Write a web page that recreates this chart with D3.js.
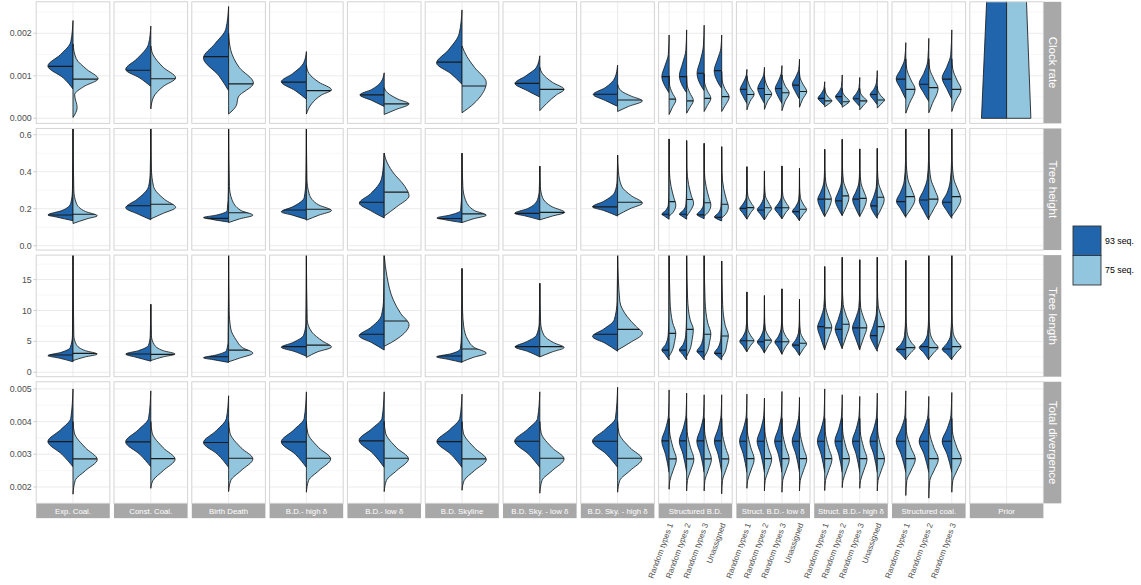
<!DOCTYPE html>
<html><head><meta charset="utf-8">
<script src="https://cdn.jsdelivr.net/npm/d3@7"></script>
<style>body{margin:0;background:#fff}</style>
</head><body><svg id="chart" width="1141" height="585"></svg>
<script>
// ---------------- DATA ----------------
const facets = ["Exp. Coal.","Const. Coal.","Birth Death","B.D.- high δ","B.D.- low δ","B.D. Skyline","B.D. Sky. - low δ","B.D. Sky. - high δ","Structured B.D.","Struct. B.D.- low δ","Struct. B.D.- high δ","Structured coal.","Prior"];
const structuredTypes4 = ["Random types 1","Random types 2","Random types 3","Unassigned"];
const structuredTypes3 = ["Random types 1","Random types 2","Random types 3"];
const facetCategories = [[""],[""],[""],[""],[""],[""],[""],[""],structuredTypes4,structuredTypes4,structuredTypes4,structuredTypes3,[""]];
const metrics = ["Clock rate","Tree height","Tree length","Total divergence"];
const groups = ["93 seq.","75 seq."];
const groupColors = ["#2166AC","#92C5DE"];
const yDomains = [[-0.00012,0.002741],[-0.0235,0.6338],[-0.71,18.96],[0.0015,0.005219]];
const yTicks = [[0,0.001,0.002],[0,0.2,0.4,0.6],[0,5,10,15],[0.002,0.003,0.004,0.005]];
const yTickLabels = [["0.000","0.001","0.002"],["0.0","0.2","0.4","0.6"],["0","5","10","15"],["0.002","0.003","0.004","0.005"]];

// half-violin profiles: [value, relative half-width]
const clockRate93 = [
 [[0.00069,0],[0.00095,0.35],[0.00123,0.91],[0.0015,0.45],[0.0018,0.08],[0.0023,0]],
 [[0.00075,0],[0.00095,0.4],[0.00115,0.91],[0.0014,0.5],[0.00175,0.08],[0.00217,0]],
 [[0.00065,0],[0.001,0.35],[0.00142,0.91],[0.00175,0.5],[0.0021,0.1],[0.00263,0]],
 [[0.00045,0],[0.00065,0.4],[0.00086,0.91],[0.00105,0.5],[0.0013,0.1],[0.00157,0]],
 [[0.00028,0],[0.00042,0.45],[0.00055,0.88],[0.00068,0.45],[0.00085,0.12],[0.00107,0]],
 [[0.0008,0],[0.00105,0.4],[0.0013,0.92],[0.0016,0.5],[0.002,0.1],[0.00255,0]],
 [[0.0005,0],[0.00065,0.45],[0.00082,0.9],[0.001,0.5],[0.0012,0.12],[0.00147,0]],
 [[0.00028,0],[0.00042,0.45],[0.00056,0.88],[0.00072,0.45],[0.00095,0.1],[0.00125,0]],
 [[0.0006,0],[0.00075,0.5],[0.00098,0.92],[0.00125,0.5],[0.0015,0.1],[0.00196,0]],
 [[0.0006,0],[0.00075,0.5],[0.001,0.92],[0.0013,0.5],[0.0016,0.1],[0.00208,0]],
 [[0.00065,0],[0.0008,0.5],[0.00106,0.9],[0.00135,0.5],[0.0017,0.1],[0.00219,0]],
 [[0.0007,0],[0.00085,0.5],[0.00112,0.95],[0.0014,0.5],[0.00165,0.1],[0.00196,0]],
 [[0.00035,0],[0.0005,0.45],[0.00068,0.85],[0.00085,0.45],[0.001,0.1],[0.00115,0]],
 [[0.00035,0],[0.0005,0.45],[0.0007,0.85],[0.00088,0.45],[0.00102,0.1],[0.0012,0]],
 [[0.00035,0],[0.0005,0.45],[0.0007,0.85],[0.00088,0.45],[0.00105,0.1],[0.00124,0]],
 [[0.00045,0],[0.0006,0.45],[0.0008,0.9],[0.00098,0.45],[0.00115,0.1],[0.00139,0]],
 [[0.0003,0],[0.00038,0.45],[0.00047,0.85],[0.00058,0.45],[0.0007,0.1],[0.00086,0]],
 [[0.0003,0],[0.0004,0.45],[0.00051,0.85],[0.00062,0.45],[0.00075,0.1],[0.00102,0]],
 [[0.00028,0],[0.00037,0.45],[0.00047,0.85],[0.00058,0.45],[0.00072,0.1],[0.00096,0]],
 [[0.00032,0],[0.00043,0.45],[0.00056,0.9],[0.00068,0.45],[0.00085,0.1],[0.00112,0]],
 [[0.00045,0],[0.0007,0.5],[0.00093,0.93],[0.00115,0.5],[0.0014,0.1],[0.00178,0]],
 [[0.0004,0],[0.0006,0.5],[0.00082,0.93],[0.00105,0.5],[0.00135,0.1],[0.00188,0]],
 [[0.00045,0],[0.0007,0.5],[0.00095,0.93],[0.0012,0.5],[0.0015,0.1],[0.00208,0]]
];
const clockRate75 = [
 [[0.00002,0],[0.00025,0.15],[0.00055,0.06],[0.00075,0.4],[0.00093,0.91],[0.00115,0.5],[0.0014,0.12],[0.00175,0]],
 [[0.00022,0],[0.0005,0.1],[0.00075,0.45],[0.00095,0.9],[0.0012,0.45],[0.0015,0.08],[0.0017,0]],
 [[0.0001,0],[0.0003,0.28],[0.0005,0.35],[0.00083,0.9],[0.0012,0.38],[0.0016,0.08],[0.002,0]],
 [[0.0001,0],[0.00035,0.2],[0.00055,0.55],[0.00067,0.91],[0.00085,0.45],[0.00105,0.1],[0.00125,0]],
 [[0.00009,0],[0.0002,0.4],[0.00034,0.9],[0.00045,0.5],[0.0006,0.12],[0.00072,0]],
 [[0.00013,0],[0.0003,0.35],[0.0005,0.65],[0.00084,0.88],[0.0012,0.45],[0.00145,0.18],[0.0017,0]],
 [[0.00018,0],[0.00035,0.25],[0.00055,0.6],[0.00068,0.88],[0.00085,0.45],[0.00105,0.1],[0.0012,0]],
 [[0.00016,0],[0.00028,0.4],[0.00041,0.9],[0.00052,0.5],[0.00065,0.12],[0.0008,0]],
 [[0.00009,0],[0.00025,0.4],[0.00043,0.85],[0.0006,0.4],[0.0008,0.05],[0.001,0]],
 [[0.00012,0],[0.00025,0.4],[0.00042,0.85],[0.0006,0.4],[0.0008,0.05],[0.001,0]],
 [[0.00016,0],[0.0003,0.4],[0.00047,0.85],[0.00065,0.4],[0.00085,0.05],[0.00105,0]],
 [[0.00016,0],[0.0003,0.45],[0.0005,0.95],[0.0007,0.4],[0.0009,0.05],[0.0011,0]],
 [[0.0002,0],[0.0004,0.4],[0.00057,0.92],[0.00072,0.45],[0.0009,0.08],[0.001,0]],
 [[0.00021,0],[0.0004,0.4],[0.00057,0.92],[0.00072,0.45],[0.0009,0.08],[0.001,0]],
 [[0.00018,0],[0.0004,0.4],[0.0006,0.92],[0.00075,0.45],[0.00092,0.08],[0.00102,0]],
 [[0.00026,0],[0.00045,0.4],[0.00063,0.92],[0.0008,0.45],[0.00095,0.08],[0.00108,0]],
 [[0.00027,0],[0.00033,0.45],[0.00041,0.92],[0.0005,0.45],[0.00062,0.08],[0.00072,0]],
 [[0.00026,0],[0.00032,0.45],[0.0004,0.92],[0.0005,0.45],[0.0006,0.08],[0.0007,0]],
 [[0.0002,0],[0.0003,0.45],[0.00041,0.92],[0.0005,0.45],[0.0006,0.08],[0.0007,0]],
 [[0.00024,0],[0.00033,0.45],[0.00043,0.92],[0.00053,0.45],[0.00065,0.08],[0.00075,0]],
 [[0.00012,0],[0.00035,0.35],[0.00068,0.9],[0.0009,0.5],[0.00115,0.1],[0.0014,0]],
 [[0.00013,0],[0.00035,0.35],[0.0007,0.9],[0.00092,0.5],[0.00115,0.1],[0.0014,0]],
 [[0.00016,0],[0.0004,0.35],[0.00068,0.9],[0.0009,0.5],[0.00115,0.1],[0.0014,0]]
];
const clockRateMedian93 = [0.00122,0.00113,0.00145,0.00085,0.00055,0.00132,0.00082,0.000565,0.00098,0.00098,0.00106,0.00112,0.00068,0.0007,0.0007,0.00078,0.00047,0.00051,0.00046,0.00056,0.00092,0.0008,0.00092];
const clockRateMedian75 = [0.00092,0.00093,0.00081,0.00065,0.00034,0.00076,0.00068,0.00043,0.00045,0.00041,0.00047,0.00051,0.00056,0.00056,0.0006,0.00063,0.00041,0.00039,0.00041,0.00043,0.00068,0.00072,0.00068];
const priorClockRate93 = [[0,0.91],[0.0031,0.7]];
const priorClockRate75 = [[0,0.88],[0.0031,0.7]];

const treeHeight93 = [
 [[0.135,0],[0.155,0.6],[0.166,0.91],[0.19,0.4],[0.23,0.08],[0.3,0.02],[0.64,0]],
 [[0.14,0],[0.17,0.45],[0.205,0.91],[0.25,0.5],[0.32,0.08],[0.4,0.02],[0.64,0]],
 [[0.128,0],[0.142,0.6],[0.152,0.91],[0.165,0.45],[0.19,0.05],[0.3,0.01],[0.64,0]],
 [[0.142,0],[0.165,0.5],[0.183,0.91],[0.21,0.5],[0.26,0.08],[0.35,0.02],[0.64,0]],
 [[0.15,0],[0.19,0.5],[0.23,0.9],[0.28,0.5],[0.36,0.1],[0.45,0.02],[0.5,0]],
 [[0.125,0],[0.14,0.6],[0.15,0.91],[0.165,0.45],[0.19,0.05],[0.3,0.01],[0.5,0]],
 [[0.14,0],[0.16,0.5],[0.175,0.91],[0.2,0.45],[0.25,0.08],[0.3,0.02],[0.43,0]],
 [[0.16,0],[0.19,0.5],[0.21,0.91],[0.24,0.5],[0.29,0.1],[0.35,0.02],[0.49,0]],
 [[0.143,0],[0.16,0.6],[0.17,0.92],[0.19,0.45],[0.22,0.1],[0.3,0.02],[0.577,0]],
 [[0.143,0],[0.16,0.6],[0.17,0.92],[0.19,0.45],[0.22,0.1],[0.3,0.02],[0.568,0]],
 [[0.146,0],[0.158,0.6],[0.168,0.92],[0.19,0.45],[0.22,0.1],[0.3,0.02],[0.553,0]],
 [[0.134,0],[0.145,0.6],[0.155,0.92],[0.175,0.45],[0.21,0.1],[0.3,0.02],[0.535,0]],
 [[0.143,0],[0.175,0.5],[0.2,0.9],[0.225,0.5],[0.26,0.1],[0.32,0.02],[0.427,0]],
 [[0.139,0],[0.17,0.5],[0.195,0.9],[0.22,0.5],[0.26,0.1],[0.32,0.02],[0.404,0]],
 [[0.146,0],[0.175,0.5],[0.2,0.9],[0.225,0.5],[0.26,0.1],[0.32,0.02],[0.431,0]],
 [[0.134,0],[0.165,0.5],[0.185,0.9],[0.21,0.5],[0.25,0.1],[0.31,0.02],[0.418,0]],
 [[0.157,0],[0.2,0.5],[0.25,0.88],[0.29,0.5],[0.34,0.12],[0.4,0.03],[0.521,0]],
 [[0.162,0],[0.2,0.5],[0.245,0.88],[0.29,0.5],[0.34,0.12],[0.42,0.03],[0.575,0]],
 [[0.157,0],[0.2,0.5],[0.25,0.9],[0.29,0.5],[0.34,0.12],[0.4,0.03],[0.523,0]],
 [[0.148,0],[0.18,0.5],[0.22,0.85],[0.26,0.5],[0.32,0.12],[0.4,0.03],[0.526,0]],
 [[0.153,0],[0.2,0.5],[0.24,0.9],[0.29,0.5],[0.35,0.15],[0.45,0.03],[0.64,0]],
 [[0.139,0],[0.19,0.5],[0.245,0.92],[0.3,0.5],[0.36,0.15],[0.46,0.03],[0.64,0]],
 [[0.148,0],[0.19,0.5],[0.235,0.92],[0.28,0.5],[0.35,0.15],[0.45,0.03],[0.64,0]]
];
const treeHeight75 = [
 [[0.12,0],[0.145,0.5],[0.162,0.88],[0.185,0.45],[0.23,0.12],[0.3,0.03],[0.64,0]],
 [[0.145,0],[0.175,0.45],[0.207,0.9],[0.25,0.5],[0.32,0.1],[0.42,0.02],[0.64,0]],
 [[0.125,0],[0.145,0.4],[0.165,0.88],[0.19,0.45],[0.25,0.12],[0.32,0.03],[0.64,0]],
 [[0.138,0],[0.165,0.45],[0.19,0.91],[0.22,0.45],[0.28,0.1],[0.36,0.02],[0.64,0]],
 [[0.16,0],[0.21,0.45],[0.27,0.9],[0.32,0.75],[0.4,0.3],[0.47,0.05],[0.5,0]],
 [[0.125,0],[0.145,0.4],[0.165,0.88],[0.19,0.45],[0.25,0.12],[0.32,0.03],[0.5,0]],
 [[0.14,0],[0.16,0.45],[0.18,0.9],[0.21,0.45],[0.26,0.1],[0.32,0.02],[0.43,0]],
 [[0.165,0],[0.2,0.45],[0.23,0.9],[0.27,0.5],[0.32,0.15],[0.4,0.03],[0.49,0]],
 [[0.16,0],[0.18,0.5],[0.22,0.85],[0.26,0.6],[0.32,0.25],[0.41,0.03],[0.577,0]],
 [[0.16,0],[0.19,0.5],[0.23,0.88],[0.27,0.6],[0.33,0.25],[0.42,0.03],[0.568,0]],
 [[0.16,0],[0.18,0.5],[0.22,0.85],[0.26,0.6],[0.32,0.25],[0.4,0.03],[0.553,0]],
 [[0.15,0],[0.17,0.5],[0.21,0.85],[0.25,0.6],[0.31,0.25],[0.4,0.03],[0.535,0]],
 [[0.145,0],[0.18,0.5],[0.205,0.9],[0.23,0.55],[0.27,0.12],[0.33,0.02],[0.427,0]],
 [[0.14,0],[0.175,0.5],[0.2,0.9],[0.23,0.55],[0.27,0.12],[0.33,0.02],[0.404,0]],
 [[0.146,0],[0.18,0.5],[0.205,0.9],[0.23,0.55],[0.27,0.12],[0.33,0.02],[0.431,0]],
 [[0.14,0],[0.17,0.5],[0.195,0.9],[0.22,0.55],[0.26,0.12],[0.32,0.02],[0.418,0]],
 [[0.16,0],[0.2,0.5],[0.25,0.85],[0.29,0.55],[0.34,0.15],[0.41,0.03],[0.521,0]],
 [[0.165,0],[0.21,0.5],[0.26,0.85],[0.3,0.55],[0.35,0.15],[0.43,0.03],[0.575,0]],
 [[0.16,0],[0.2,0.5],[0.25,0.85],[0.29,0.55],[0.34,0.15],[0.41,0.03],[0.523,0]],
 [[0.16,0],[0.2,0.5],[0.25,0.88],[0.29,0.55],[0.34,0.15],[0.41,0.03],[0.526,0]],
 [[0.16,0],[0.2,0.5],[0.25,0.88],[0.3,0.6],[0.36,0.2],[0.46,0.04],[0.64,0]],
 [[0.15,0],[0.2,0.5],[0.25,0.9],[0.3,0.6],[0.36,0.2],[0.46,0.04],[0.64,0]],
 [[0.16,0],[0.2,0.5],[0.25,0.88],[0.3,0.6],[0.36,0.2],[0.46,0.04],[0.64,0]]
];
const treeHeightMedian93 = [0.166,0.216,0.148,0.193,0.235,0.147,0.175,0.21,0.17,0.17,0.167,0.153,0.202,0.193,0.205,0.184,0.252,0.242,0.252,0.215,0.238,0.247,0.235];
const treeHeightMedian75 = [0.17,0.224,0.178,0.197,0.29,0.172,0.18,0.235,0.238,0.25,0.232,0.224,0.206,0.205,0.205,0.197,0.252,0.269,0.256,0.262,0.265,0.252,0.265];

const treeLength93 = [
 [[1.7,0],[2.3,0.5],[2.7,0.91],[3.2,0.45],[4.0,0.1],[6,0.02],[19,0]],
 [[1.8,0],[2.4,0.5],[2.95,0.91],[3.5,0.45],[4.4,0.08],[6,0.02],[11,0]],
 [[1.6,0],[2.0,0.5],[2.35,0.91],[2.8,0.45],[3.5,0.08],[5,0.02],[19,0]],
 [[2.6,0],[3.4,0.45],[4.05,0.91],[4.8,0.5],[6,0.1],[8,0.02],[19,0]],
 [[3.6,0],[4.8,0.45],[5.9,0.91],[7.2,0.5],[9.2,0.1],[12,0.02],[19,0]],
 [[1.6,0],[2.1,0.5],[2.5,0.92],[3.0,0.4],[3.8,0.06],[6,0.02],[16.8,0]],
 [[2.5,0],[3.4,0.45],[4.1,0.9],[4.9,0.5],[6,0.12],[8,0.02],[14.4,0]],
 [[3.4,0],[4.7,0.45],[5.8,0.91],[7,0.5],[8.5,0.12],[11.5,0.02],[19,0]],
 [[2.0,0],[2.9,0.5],[3.6,0.92],[4.5,0.45],[6,0.12],[9,0.02],[19,0]],
 [[2.0,0],[2.9,0.5],[3.6,0.92],[4.5,0.45],[6,0.12],[9,0.02],[19,0]],
 [[2.0,0],[2.8,0.5],[3.4,0.92],[4.3,0.45],[5.8,0.12],[9,0.02],[19,0]],
 [[2.0,0],[2.6,0.5],[3.1,0.92],[4.0,0.45],[5.5,0.12],[9,0.02],[18,0]],
 [[3.3,0],[4.3,0.5],[5.0,0.9],[5.8,0.5],[7,0.12],[9,0.02],[13,0]],
 [[3.1,0],[4.2,0.5],[4.9,0.9],[5.7,0.5],[7,0.12],[9,0.02],[12.4,0]],
 [[2.9,0],[4.1,0.5],[4.9,0.9],[5.7,0.5],[7,0.12],[9,0.02],[13.5,0]],
 [[2.7,0],[3.7,0.5],[4.4,0.92],[5.2,0.5],[6.5,0.12],[8.5,0.02],[11.8,0]],
 [[3.6,0],[5.5,0.5],[7.3,0.9],[8.8,0.5],[10.5,0.12],[13,0.02],[17.1,0]],
 [[3.8,0],[5.4,0.5],[7.0,0.9],[8.6,0.5],[10.5,0.12],[13,0.02],[18.6,0]],
 [[3.6,0],[5.4,0.5],[7.2,0.92],[8.8,0.5],[10.5,0.12],[13,0.02],[18.2,0]],
 [[3.4,0],[4.6,0.5],[5.9,0.9],[7.5,0.5],[9.5,0.12],[12.5,0.02],[18.6,0]],
 [[2.0,0],[3.0,0.5],[3.7,0.92],[4.5,0.5],[6,0.12],[9,0.02],[18.1,0]],
 [[2.0,0],[3.2,0.5],[4.0,0.92],[4.8,0.5],[6.3,0.12],[9,0.02],[19,0]],
 [[2.0,0],[3.0,0.5],[3.7,0.92],[4.6,0.5],[6,0.12],[9,0.02],[19,0]]
];
const treeLength75 = [
 [[1.9,0],[2.5,0.45],[2.95,0.88],[3.5,0.45],[4.5,0.12],[6,0.03],[19,0]],
 [[1.9,0],[2.5,0.45],[2.95,0.88],[3.5,0.45],[4.5,0.12],[6,0.02],[11,0]],
 [[1.7,0],[2.3,0.4],[3.1,0.88],[4.0,0.5],[5.2,0.28],[7,0.08],[10,0.02],[19,0]],
 [[2.4,0],[3.3,0.4],[4.1,0.91],[5.0,0.6],[6.5,0.2],[8.5,0.03],[19,0]],
 [[4.2,0],[5.5,0.5],[7.7,0.9],[9.5,0.6],[11.7,0.33],[15.5,0.1],[19,0]],
 [[1.7,0],[2.4,0.4],[3.1,0.88],[4.0,0.45],[5.2,0.22],[7.5,0.06],[10,0.02],[16.8,0]],
 [[2.5,0],[3.3,0.45],[4.0,0.88],[4.8,0.5],[6,0.15],[8,0.03],[14.4,0]],
 [[3.6,0],[4.8,0.45],[6.3,0.9],[7.5,0.65],[9.0,0.35],[11.5,0.08],[19,0]],
 [[2.6,0],[3.5,0.4],[5.0,0.7],[6.3,0.85],[8,0.45],[11.5,0.12],[19,0]],
 [[2.6,0],[3.6,0.4],[5.3,0.7],[6.9,0.85],[8.5,0.45],[12,0.12],[19,0]],
 [[2.5,0],[3.4,0.4],[5.0,0.7],[6.2,0.85],[8,0.45],[11.5,0.12],[19,0]],
 [[2.4,0],[3.2,0.4],[4.8,0.7],[5.9,0.85],[7.6,0.45],[11,0.12],[18,0]],
 [[3.4,0],[4.4,0.5],[5.1,0.9],[5.9,0.5],[7,0.12],[9,0.02],[13,0]],
 [[3.2,0],[4.3,0.5],[5.1,0.9],[5.9,0.5],[7,0.12],[9,0.02],[12.4,0]],
 [[3.0,0],[4.2,0.5],[5.0,0.9],[5.8,0.5],[7,0.12],[9,0.02],[13.5,0]],
 [[2.8,0],[3.8,0.5],[4.6,0.9],[5.4,0.5],[6.5,0.12],[8.5,0.02],[11.8,0]],
 [[3.8,0],[5.6,0.5],[7.3,0.9],[8.8,0.5],[10.5,0.12],[13,0.02],[17.1,0]],
 [[4.0,0],[5.8,0.5],[7.6,0.9],[9.2,0.5],[11,0.12],[14,0.02],[18.6,0]],
 [[3.8,0],[5.6,0.5],[7.3,0.9],[8.8,0.5],[10.5,0.12],[13,0.02],[18.2,0]],
 [[3.8,0],[5.6,0.5],[7.4,0.9],[9.0,0.5],[10.8,0.12],[13.5,0.02],[18.6,0]],
 [[2.2,0],[3.2,0.5],[4.0,0.9],[4.9,0.5],[6.5,0.12],[9.5,0.02],[18.1,0]],
 [[2.2,0],[3.2,0.5],[4.0,0.9],[4.9,0.5],[6.5,0.12],[9.5,0.02],[19,0]],
 [[2.2,0],[3.3,0.5],[4.1,0.9],[5.0,0.5],[6.5,0.12],[9.5,0.02],[19,0]]
];
const treeLengthMedian93 = [2.8,2.96,2.52,4.15,6.15,2.64,4.15,6.15,3.6,3.6,3.33,3.07,5.1,4.95,4.95,4.4,7.4,6.95,7.2,5.93,3.72,4.15,3.77];
const treeLengthMedian75 = [3.07,2.9,3.6,4.4,8.3,3.77,4.15,6.95,6.3,6.95,6.15,5.87,5.1,5.2,4.95,4.7,7.2,7.77,7.2,7.4,4.0,4.0,4.15];

const totalDivergence93 = [
 [[0.00262,0],[0.003,0.4],[0.00339,0.91],[0.00375,0.45],[0.0041,0.08],[0.005,0]],
 [[0.00262,0],[0.003,0.4],[0.00338,0.91],[0.00375,0.45],[0.0041,0.08],[0.00494,0]],
 [[0.0026,0],[0.003,0.4],[0.00336,0.91],[0.00372,0.45],[0.0041,0.08],[0.00479,0]],
 [[0.0026,0],[0.003,0.4],[0.00338,0.91],[0.00375,0.45],[0.0041,0.08],[0.00491,0]],
 [[0.0026,0],[0.00302,0.4],[0.00343,0.91],[0.00378,0.45],[0.0041,0.08],[0.00491,0]],
 [[0.0026,0],[0.003,0.4],[0.00339,0.91],[0.00375,0.45],[0.0041,0.08],[0.00484,0]],
 [[0.0026,0],[0.003,0.4],[0.0034,0.91],[0.00376,0.45],[0.0041,0.08],[0.00491,0]],
 [[0.0026,0],[0.003,0.4],[0.0034,0.91],[0.00376,0.45],[0.0041,0.08],[0.00505,0]],
 [[0.00245,0],[0.003,0.45],[0.00341,0.93],[0.00378,0.45],[0.0042,0.08],[0.00497,0]],
 [[0.00245,0],[0.003,0.45],[0.0034,0.93],[0.00378,0.45],[0.0042,0.08],[0.00487,0]],
 [[0.00245,0],[0.003,0.45],[0.0034,0.93],[0.00378,0.45],[0.0042,0.08],[0.00482,0]],
 [[0.00245,0],[0.003,0.45],[0.0034,0.93],[0.00378,0.45],[0.0042,0.08],[0.00482,0]],
 [[0.00245,0],[0.003,0.45],[0.0034,0.93],[0.00378,0.45],[0.0042,0.08],[0.00484,0]],
 [[0.00245,0],[0.003,0.45],[0.0034,0.93],[0.00378,0.45],[0.0042,0.08],[0.00472,0]],
 [[0.00245,0],[0.003,0.45],[0.0034,0.93],[0.00378,0.45],[0.0042,0.08],[0.00492,0]],
 [[0.00245,0],[0.003,0.45],[0.0034,0.93],[0.00378,0.45],[0.0042,0.08],[0.00474,0]],
 [[0.00245,0],[0.003,0.45],[0.0034,0.93],[0.00378,0.45],[0.0042,0.08],[0.005,0]],
 [[0.00245,0],[0.003,0.45],[0.0034,0.93],[0.00378,0.45],[0.0042,0.08],[0.00482,0]],
 [[0.00245,0],[0.003,0.45],[0.0034,0.93],[0.00378,0.45],[0.0042,0.08],[0.00477,0]],
 [[0.00245,0],[0.003,0.45],[0.0034,0.93],[0.00378,0.45],[0.0042,0.08],[0.00487,0]],
 [[0.00245,0],[0.003,0.45],[0.0034,0.93],[0.00378,0.45],[0.0042,0.08],[0.00494,0]],
 [[0.00245,0],[0.003,0.45],[0.0034,0.93],[0.00378,0.45],[0.0042,0.08],[0.00477,0]],
 [[0.00245,0],[0.003,0.45],[0.0034,0.93],[0.00378,0.45],[0.0042,0.08],[0.00489,0]]
];
const totalDivergence75 = [
 [[0.00178,0],[0.0022,0.08],[0.0025,0.45],[0.00284,0.88],[0.0032,0.45],[0.00365,0.05],[0.004,0]],
 [[0.00196,0],[0.0022,0.08],[0.0025,0.45],[0.00285,0.88],[0.0032,0.45],[0.00365,0.05],[0.004,0]],
 [[0.00186,0],[0.0022,0.08],[0.0025,0.45],[0.00286,0.88],[0.0032,0.45],[0.00365,0.05],[0.004,0]],
 [[0.00184,0],[0.0022,0.08],[0.0025,0.45],[0.00286,0.88],[0.0032,0.45],[0.00365,0.05],[0.004,0]],
 [[0.00186,0],[0.0022,0.08],[0.0025,0.45],[0.00286,0.88],[0.0032,0.45],[0.00365,0.05],[0.004,0]],
 [[0.0019,0],[0.0022,0.08],[0.0025,0.45],[0.00284,0.88],[0.0032,0.45],[0.00365,0.05],[0.004,0]],
 [[0.00181,0],[0.0022,0.08],[0.0025,0.45],[0.00286,0.88],[0.0032,0.45],[0.00365,0.05],[0.004,0]],
 [[0.00184,0],[0.0022,0.08],[0.0025,0.45],[0.00286,0.88],[0.0032,0.45],[0.00365,0.05],[0.004,0]],
 [[0.00193,0],[0.0022,0.1],[0.0025,0.5],[0.00285,0.92],[0.0032,0.5],[0.0037,0.06],[0.0041,0]],
 [[0.00188,0],[0.0022,0.1],[0.0025,0.5],[0.00285,0.92],[0.0032,0.5],[0.0037,0.06],[0.0041,0]],
 [[0.00188,0],[0.0022,0.1],[0.0025,0.5],[0.00285,0.92],[0.0032,0.5],[0.0037,0.06],[0.0041,0]],
 [[0.00179,0],[0.0022,0.1],[0.0025,0.5],[0.00285,0.92],[0.0032,0.5],[0.0037,0.06],[0.0041,0]],
 [[0.00196,0],[0.0022,0.1],[0.0025,0.5],[0.00285,0.92],[0.0032,0.5],[0.0037,0.06],[0.0041,0]],
 [[0.00188,0],[0.0022,0.1],[0.0025,0.5],[0.00285,0.92],[0.0032,0.5],[0.0037,0.06],[0.0041,0]],
 [[0.00184,0],[0.0022,0.1],[0.0025,0.5],[0.00285,0.92],[0.0032,0.5],[0.0037,0.06],[0.0041,0]],
 [[0.00188,0],[0.0022,0.1],[0.0025,0.5],[0.00285,0.92],[0.0032,0.5],[0.0037,0.06],[0.0041,0]],
 [[0.00189,0],[0.0022,0.1],[0.0025,0.5],[0.00285,0.92],[0.0032,0.5],[0.0037,0.06],[0.0041,0]],
 [[0.00198,0],[0.0022,0.1],[0.0025,0.5],[0.00285,0.92],[0.0032,0.5],[0.0037,0.06],[0.0041,0]],
 [[0.00196,0],[0.0022,0.1],[0.0025,0.5],[0.00285,0.92],[0.0032,0.5],[0.0037,0.06],[0.0041,0]],
 [[0.00188,0],[0.0022,0.1],[0.0025,0.5],[0.00285,0.92],[0.0032,0.5],[0.0037,0.06],[0.0041,0]],
 [[0.00174,0],[0.0022,0.1],[0.0025,0.5],[0.00285,0.92],[0.0032,0.5],[0.0037,0.06],[0.0041,0]],
 [[0.00166,0],[0.0022,0.1],[0.0025,0.5],[0.00285,0.92],[0.0032,0.5],[0.0037,0.06],[0.0041,0]],
 [[0.00184,0],[0.0022,0.1],[0.0025,0.5],[0.00285,0.92],[0.0032,0.5],[0.0037,0.06],[0.0041,0]]
];
const totalDivergenceMedian93 = [0.00339,0.00338,0.00336,0.00338,0.00341,0.00339,0.0034,0.0034,0.00341,0.00341,0.00341,0.00341,0.0034,0.0034,0.0034,0.0034,0.0034,0.0034,0.0034,0.0034,0.0034,0.0034,0.0034];
const totalDivergenceMedian75 = [0.00286,0.00287,0.00288,0.00288,0.00288,0.00286,0.00288,0.00288,0.00286,0.00286,0.00286,0.00286,0.00287,0.00287,0.00287,0.00287,0.00287,0.00287,0.00287,0.00287,0.00287,0.00287,0.00287];

// ---------------- LAYOUT ----------------
const font = "'Liberation Sans', Arial, Helvetica, sans-serif";
const plotLeft = 36.2, panelW = 73.6, gapX = 4.2;
const plotTop = 1.8, panelH = 121.6, gapY = 5.05;
const stripW = 17.5, stripH = 14.4;
const outline = "#1a1a1a";

const rowsData = [
 {d: clockRate93, l: clockRate75, md: clockRateMedian93, ml: clockRateMedian75, pd: priorClockRate93, pl: priorClockRate75},
 {d: treeHeight93, l: treeHeight75, md: treeHeightMedian93, ml: treeHeightMedian75},
 {d: treeLength93, l: treeLength75, md: treeLengthMedian93, ml: treeLengthMedian75},
 {d: totalDivergence93, l: totalDivergence75, md: totalDivergenceMedian93, ml: totalDivergenceMedian75}
];

const svg = d3.select("#chart");
svg.append("rect").attr("width",1141).attr("height",585).attr("fill","#fff");
const defs = svg.append("defs");

const slots = [];
facetCategories.forEach((cats,f)=>cats.forEach((c,i)=>slots.push({f,i,label:c,key:f+"-"+i})));

const panelX = f => plotLeft + f*(panelW+gapX);
const panelY = r => plotTop + r*(panelH+gapY);
const xScales = facets.map((name,f)=>d3.scalePoint()
  .domain(slots.filter(s=>s.f===f).map(s=>s.key))
  .range([panelX(f), panelX(f)+panelW]).padding(0.6));
const yScales = metrics.map((m,r)=>d3.scaleLinear().domain(yDomains[r]).range([panelY(r)+panelH, panelY(r)]));

function minorBreaks(ticks, dom){
  const step = ticks[1]-ticks[0];
  const out = [];
  for(let v = ticks[0]-step/2; v <= dom[1]; v += step){ if(v>=dom[0]) out.push(v); }
  return out;
}

let clipId = 0;
function drawHalf(g, profile, median, cx, hw, side, y, color){
  const area = d3.area().curve(d3.curveMonotoneY)
    .y(d=>y(d[0])).x0(cx).x1(d=>cx+side*d[1]*hw);
  const path = area(profile);
  const id = "vc"+(clipId++);
  defs.append("clipPath").attr("id",id).append("path").attr("d",path);
  g.append("path").attr("d",path).attr("fill",color)
    .attr("stroke",outline).attr("stroke-width",0.85).attr("stroke-linejoin","round");
  if(median!=null){
    g.append("line").attr("clip-path",`url(#${id})`)
      .attr("x1",cx).attr("x2",cx+side*hw*1.1)
      .attr("y1",y(median)).attr("y2",y(median))
      .attr("stroke",outline).attr("stroke-width",1.15);
  }
}

metrics.forEach((metric,r)=>{
  const y = yScales[r];
  const top = panelY(r);
  const rd = rowsData[r];
  facets.forEach((facet,f)=>{
    const x = xScales[f];
    const x0 = panelX(f);
    const g = svg.append("g");
    g.append("rect").attr("x",x0).attr("y",top).attr("width",panelW).attr("height",panelH).attr("fill","#fff");
    minorBreaks(yTicks[r], yDomains[r]).forEach(v=>{
      g.append("line").attr("x1",x0).attr("x2",x0+panelW).attr("y1",y(v)).attr("y2",y(v))
        .attr("stroke","#f2f2f2").attr("stroke-width",0.6);
    });
    yTicks[r].forEach(v=>{
      g.append("line").attr("x1",x0).attr("x2",x0+panelW).attr("y1",y(v)).attr("y2",y(v))
        .attr("stroke","#e6e6e6").attr("stroke-width",0.8);
    });
    x.domain().forEach(k=>{
      g.append("line").attr("x1",x(k)).attr("x2",x(k)).attr("y1",top).attr("y2",top+panelH)
        .attr("stroke","#e6e6e6").attr("stroke-width",0.8);
    });
    const cid = `panel-${r}-${f}`;
    defs.append("clipPath").attr("id",cid).append("rect").attr("x",x0).attr("y",top).attr("width",panelW).attr("height",panelH);
    const vg = g.append("g").attr("clip-path",`url(#${cid})`);
    const hw = 0.45*x.step();
    slots.forEach((s,idx)=>{
      if(s.f!==f) return;
      const cx = x(s.key);
      if(facet==="Prior"){
        if(rd.pd){
          drawHalf(vg, rd.pd, null, cx, hw, -1, y, groupColors[0]);
          drawHalf(vg, rd.pl, null, cx, hw, 1, y, groupColors[1]);
        }
        return;
      }
      drawHalf(vg, rd.d[idx], rd.md[idx], cx, hw, -1, y, groupColors[0]);
      drawHalf(vg, rd.l[idx], rd.ml[idx], cx, hw, 1, y, groupColors[1]);
    });
    g.append("rect").attr("x",x0).attr("y",top).attr("width",panelW).attr("height",panelH)
      .attr("fill","none").attr("stroke","#d4d4d4").attr("stroke-width",1);
  });
  yTicks[r].forEach((v,i)=>{
    svg.append("line").attr("x1",plotLeft-2.8).attr("x2",plotLeft).attr("y1",y(v)).attr("y2",y(v))
      .attr("stroke","#b3b3b3").attr("stroke-width",0.6);
    svg.append("text").attr("x",plotLeft-4.5).attr("y",y(v)).attr("dy","0.35em")
      .attr("text-anchor","end").attr("font-family",font).attr("font-size",8.8)
      .attr("fill","#4d4d4d").text(yTickLabels[r][i]);
  });
  const sx = panelX(facets.length-1)+panelW+0.4;
  svg.append("rect").attr("x",sx).attr("y",top).attr("width",stripW).attr("height",panelH).attr("fill","#a8a8a8");
  svg.append("text").attr("transform",`translate(${sx+stripW/2},${top+panelH/2}) rotate(90)`)
    .attr("text-anchor","middle").attr("dy","0.35em").attr("font-family",font).attr("font-size",11.5)
    .attr("fill","#fff").text(metric);
});

const bottom = panelY(metrics.length-1)+panelH;
facets.forEach((facet,f)=>{
  const x0 = panelX(f);
  svg.append("rect").attr("x",x0).attr("y",bottom+0.4).attr("width",panelW).attr("height",stripH).attr("fill","#a8a8a8");
  svg.append("text").attr("x",x0+panelW/2).attr("y",bottom+0.4+stripH/2).attr("dy","0.35em")
    .attr("text-anchor","middle").attr("font-family",font).attr("font-size",7.8).attr("fill","#fff").text(facet);
  const x = xScales[f];
  slots.filter(s=>s.f===f && s.label).forEach(s=>{
    svg.append("text").attr("transform",`translate(${x(s.key)+1.5},${bottom+stripH+5.5}) rotate(-70)`)
      .attr("text-anchor","end").attr("dy","0.35em").attr("font-family",font).attr("font-size",8)
      .attr("fill","#4d4d4d").text(s.label);
  });
});

const legX = 1073, legY = 226, keyW = 28, keyH = 29.5;
groups.forEach((gname,i)=>{
  svg.append("rect").attr("x",legX).attr("y",legY+i*keyH).attr("width",keyW).attr("height",keyH)
    .attr("fill",groupColors[i]).attr("stroke","#333").attr("stroke-width",0.9);
  svg.append("text").attr("x",legX+keyW+4).attr("y",legY+i*keyH+keyH/2).attr("dy","0.35em")
    .attr("font-family",font).attr("font-size",8.8).attr("fill","#000").text(gname);
});
</script>
</body></html>
